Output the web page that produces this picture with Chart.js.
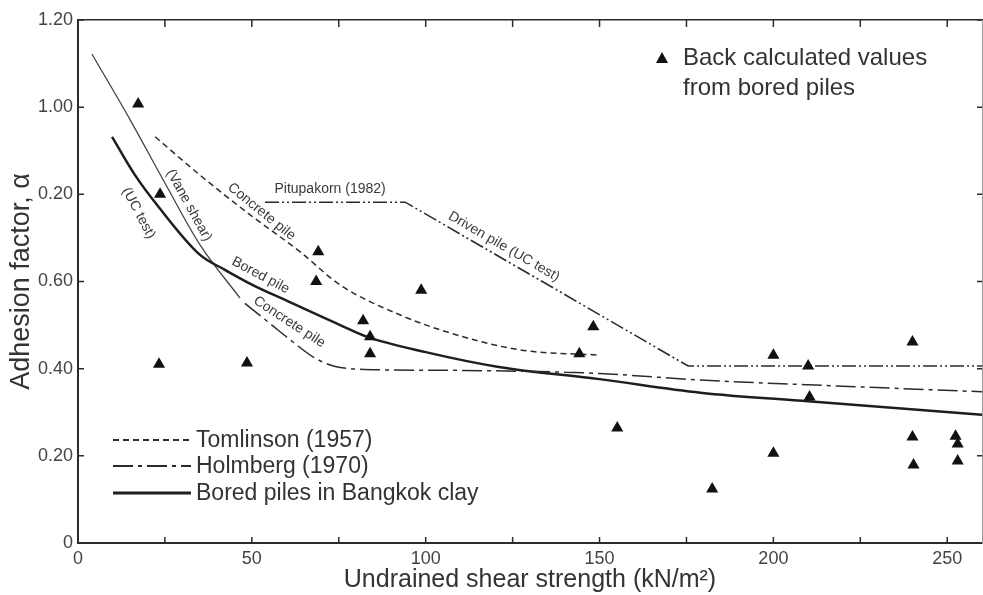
<!DOCTYPE html>
<html>
<head>
<meta charset="utf-8">
<title>Adhesion factor vs undrained shear strength</title>
<script src="https://cdn.jsdelivr.net/npm/chart.js@4.4.1/dist/chart.umd.min.js"></script>
<style>
  html, body { margin: 0; padding: 0; background: #fff; }
</style>
</head>
<body>
<canvas id="chart" width="983" height="595"></canvas>
<script>
// Back calculated values from bored piles
const pileCu    = [17.3, 23.6, 23.3, 48.6, 69.1, 68.5, 82.0, 84.0, 84.0, 98.7, 148.2, 144.2, 155.1, 182.4, 200.0, 200.0, 210.0, 210.4, 240.0, 240.0, 240.3, 252.4, 253.0, 253.0];
const pileAlpha = [1.007, 0.80, 0.41, 0.413, 0.668, 0.60, 0.51, 0.473, 0.434, 0.58, 0.496, 0.434, 0.264, 0.124, 0.431, 0.206, 0.406, 0.335, 0.461, 0.243, 0.179, 0.245, 0.227, 0.188];

// Tomlinson (1957), concrete pile
const tomCu    = [22.2, 35.1, 49.5, 63.9, 75.4, 92.7, 107.0, 127.2, 150.2];
const tomAlpha = [0.932, 0.844, 0.753, 0.668, 0.592, 0.523, 0.482, 0.443, 0.431];

// Holmberg (1970), concrete pile
const holCu    = [48, 55, 62, 68, 74, 80, 90, 110, 140, 150, 179, 210, 260];
const holAlpha = [0.55, 0.505, 0.46, 0.425, 0.405, 0.399, 0.397, 0.396, 0.392, 0.389, 0.374, 0.363, 0.347];

// Bored piles in Bangkok clay (UC test)
const boredCu    = [9.8, 16.4, 22.7, 35.1, 42, 50, 60, 75.4, 83.2, 100, 121, 150, 179, 210, 260];
const boredAlpha = [0.932, 0.844, 0.776, 0.661, 0.628, 0.593, 0.556, 0.50, 0.473, 0.438, 0.404, 0.376, 0.345, 0.325, 0.294];

// Vane shear line
const vaneCu    = [4.0, 15.0, 25.0, 35.1, 46.6];
const vaneAlpha = [1.122, 0.971, 0.826, 0.684, 0.562];

// Pitupakorn (1982), driven pile (UC test)
const pituCu    = [53.8, 94.1, 175.5, 260];
const pituAlpha = [0.782, 0.782, 0.406, 0.406];

// tick labels as printed on the figure
const xTickLabels = ['0', '50', '100', '150', '200', '250'];
const yTickLabels = ['0', '0.20', '0.40', '0.60', '0.20', '1.00', '1.20'];

const FONT = "'Liberation Sans', Arial, Helvetica, sans-serif";
const INK = '#2b2b2b';

function pairs(xs, ys) {
  return xs.map((x, i) => ({ x: x, y: ys[i] }));
}

// text written along the curves
const curveNotes = [
  { text: '(Vane shear)', x: 31.9, y: 0.775, angle: 61 },
  { text: '(UC test)', x: 17.4, y: 0.757, angle: 62 },
  { text: 'Concrete pile', x: 52.8, y: 0.760, angle: 39 },
  { text: 'Bored pile', x: 52.5, y: 0.614, angle: 28 },
  { text: 'Concrete pile', x: 60.8, y: 0.507, angle: 33 },
  { text: 'Pitupakorn (1982)', x: 72.5, y: 0.812, angle: 0 },
  { text: 'Driven pile (UC test)', x: 122.5, y: 0.680, angle: 30 }
];

const decor = {
  id: 'decor',
  afterDatasetsDraw(chart) {
    const ctx = chart.ctx;
    const s = chart.scales;
    const area = chart.chartArea;
    ctx.save();

    // inward tick marks on all four sides
    ctx.strokeStyle = INK;
    ctx.lineWidth = 1.5;
    ctx.beginPath();
    s.x.ticks.forEach(t => {
      const px = s.x.getPixelForValue(t.value);
      ctx.moveTo(px, area.bottom);
      ctx.lineTo(px, area.bottom - 6);
    });
    s.x2.ticks.forEach(t => {
      const px = s.x2.getPixelForValue(t.value);
      ctx.moveTo(px, area.top);
      ctx.lineTo(px, area.top + 7);
    });
    s.y.ticks.forEach(t => {
      const py = s.y.getPixelForValue(t.value);
      ctx.moveTo(area.left, py);
      ctx.lineTo(area.left + 6, py);
    });
    s.y2.ticks.forEach(t => {
      const py = s.y2.getPixelForValue(t.value);
      ctx.moveTo(area.right, py);
      ctx.lineTo(area.right - 5, py);
    });
    ctx.stroke();

    // curve annotations
    ctx.fillStyle = '#3a3a3a';
    ctx.font = '14px ' + FONT;
    ctx.textAlign = 'center';
    ctx.textBaseline = 'middle';
    curveNotes.forEach(n => {
      ctx.save();
      ctx.translate(s.x.getPixelForValue(n.x), s.y.getPixelForValue(n.y));
      ctx.rotate(n.angle * Math.PI / 180);
      ctx.fillText(n.text, 0, 0);
      ctx.restore();
    });

    // legend for the lines (bottom left)
    ctx.textAlign = 'left';
    ctx.font = '23px ' + FONT;
    const lineRows = [440, 466, 493];
    chart.data.datasets.filter(d => d.inLegend).forEach((d, i) => {
      const y = lineRows[i];
      ctx.strokeStyle = d.borderColor;
      ctx.lineWidth = d.borderWidth + 0.5;
      ctx.setLineDash(d.borderDash || []);
      ctx.beginPath();
      ctx.moveTo(113, y);
      ctx.lineTo(191, y);
      ctx.stroke();
      ctx.setLineDash([]);
      ctx.fillStyle = '#333';
      ctx.fillText(d.label, 196, y + 1);
    });

    // legend for the points (top right)
    const pts = chart.data.datasets[0];
    ctx.fillStyle = pts.backgroundColor;
    ctx.beginPath();
    ctx.moveTo(662, 52);
    ctx.lineTo(668, 63);
    ctx.lineTo(656, 63);
    ctx.closePath();
    ctx.fill();
    ctx.fillStyle = '#333';
    ctx.font = '24px ' + FONT;
    ctx.fillText('Back calculated values', 683, 58);
    ctx.fillText('from bored piles', 683, 88);

    ctx.restore();
  }
};

new Chart(document.getElementById('chart'), {
  type: 'scatter',
  data: {
    datasets: [
      {
        label: 'Back calculated values from bored piles',
        data: pairs(pileCu, pileAlpha),
        pointStyle: 'triangle',
        pointRadius: 7,
        backgroundColor: '#111',
        borderColor: '#111',
        borderWidth: 0,
        order: 0
      },
      {
        label: 'Tomlinson (1957)',
        inLegend: true,
        data: pairs(tomCu, tomAlpha),
        showLine: true,
        pointRadius: 0,
        borderColor: INK,
        borderWidth: 1.5,
        borderDash: [6, 4],
        cubicInterpolationMode: 'monotone',
        order: 1
      },
      {
        label: 'Holmberg (1970)',
        inLegend: true,
        data: pairs(holCu, holAlpha),
        showLine: true,
        pointRadius: 0,
        borderColor: INK,
        borderWidth: 1.5,
        borderDash: [20, 5, 4, 5],
        cubicInterpolationMode: 'monotone',
        order: 1
      },
      {
        label: 'Bored piles in Bangkok clay',
        inLegend: true,
        data: pairs(boredCu, boredAlpha),
        showLine: true,
        pointRadius: 0,
        borderColor: '#1e1e1e',
        borderWidth: 2.5,
        cubicInterpolationMode: 'monotone',
        order: 1
      },
      {
        label: 'Vane shear',
        data: pairs(vaneCu, vaneAlpha),
        showLine: true,
        pointRadius: 0,
        borderColor: '#444',
        borderWidth: 1.3,
        cubicInterpolationMode: 'monotone',
        order: 1
      },
      {
        label: 'Pitupakorn (1982)',
        data: pairs(pituCu, pituAlpha),
        showLine: true,
        pointRadius: 0,
        borderColor: INK,
        borderWidth: 1.6,
        borderDash: [14, 3, 2, 3, 2, 3],
        order: 1
      }
    ]
  },
  options: {
    responsive: false,
    animation: false,
    layout: { padding: 0, autoPadding: false },
    plugins: {
      legend: { display: false },
      tooltip: { enabled: false }
    },
    scales: {
      x: {
        type: 'linear',
        position: 'bottom',
        min: 0,
        max: 260,
        afterFit: sc => { sc.height = 52; },
        ticks: {
          stepSize: 25,
          includeBounds: false,
          autoSkip: false,
          maxRotation: 0,
          padding: 5,
          color: '#444',
          font: { family: FONT, size: 18 },
          callback: v => (v % 50 === 0 ? xTickLabels[v / 50] : '')
        },
        grid: { display: false, drawTicks: false },
        border: { display: true, color: INK, width: 2 },
        title: {
          display: true,
          text: 'Undrained shear strength (kN/m²)',
          color: '#333',
          font: { family: FONT, size: 25 },
          padding: { top: 0, bottom: 0 }
        }
      },
      x2: {
        type: 'linear',
        position: 'top',
        min: 0,
        max: 260,
        afterFit: sc => { sc.height = 20; },
        ticks: { display: false, stepSize: 25, includeBounds: false },
        grid: { display: false, drawTicks: false },
        border: { display: true, color: INK, width: 1.5 }
      },
      y: {
        type: 'linear',
        position: 'left',
        min: 0,
        max: 1.2,
        afterFit: sc => { sc.width = 78; },
        ticks: {
          stepSize: 0.2,
          padding: 5,
          color: '#444',
          font: { family: FONT, size: 18 },
          callback: v => yTickLabels[Math.round(v / 0.2)]
        },
        grid: { display: false, drawTicks: false },
        border: { display: true, color: INK, width: 2 },
        title: {
          display: true,
          text: 'Adhesion factor, α',
          color: '#333',
          font: { family: FONT, size: 27 },
          padding: { top: 5, bottom: 0 }
        }
      },
      y2: {
        type: 'linear',
        position: 'right',
        min: 0,
        max: 1.2,
        afterFit: sc => { sc.width = 1; },
        ticks: { display: false, stepSize: 0.2 },
        grid: { display: false, drawTicks: false },
        border: { display: true, color: '#999', width: 1 }
      }
    }
  },
  plugins: [decor]
});
</script>
</body>
</html>
